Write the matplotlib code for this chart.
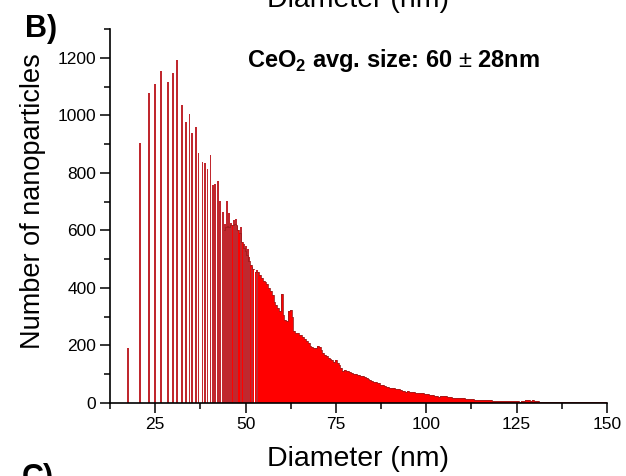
import matplotlib
matplotlib.use("Agg")
import matplotlib.pyplot as plt
import numpy as np

plt.rcParams['font.family'] = 'Liberation Sans'
plt.rcParams['mathtext.fontset'] = 'custom'
plt.rcParams['mathtext.rm'] = 'Liberation Sans'
plt.rcParams['mathtext.bf'] = 'Liberation Sans:bold'

# separate size classes on the small side (diameter nm, count)
sparse_d = [17.5, 20.7, 23.2, 24.9, 26.7, 28.5, 29.85, 31.15, 32.4, 33.5, 34.5, 35.2,
            36.3, 37.0, 38.1, 38.8, 39.5, 40.3, 41.0, 41.6, 42.3, 43.0, 43.8,
            44.3, 44.9, 45.4, 46.0, 46.7, 47.4, 47.8, 48.8, 49.5, 50.1, 50.6,
            51.1, 51.8, 53.2]
sparse_counts = [190, 902, 1078, 1108, 1153, 1117, 1148, 1192, 1035, 975, 1004, 938,
                 960, 870, 838, 835, 812, 862, 758, 760, 770, 702, 664,
                 621, 702, 659, 624, 636, 638, 615, 610, 551, 545, 534,
                 506, 471, 461]

# dense part, 0.5 nm bins starting at 44 nm
dense_start = 44.0
dense_step = 0.5
dense_counts = [
    600, 610, 615, 612, 618, 620, 622, 620, 600, 590,
    560, 540, 530, 515, 495, 480, 465, 0, 455, 455,
    445, 436, 425, 420, 415, 400, 388, 375, 350, 340,
    330, 320, 380, 305, 290, 285, 319, 324, 300, 250,
    242, 243, 238, 235, 231, 222, 216, 210, 198, 196,
    191, 191, 199, 195, 185, 174, 168, 162, 158, 152,
    148, 144, 150, 140, 133, 121, 110, 114, 112, 110,
    108, 104, 102, 101, 99, 98, 95, 93, 92, 86,
    82, 80, 77, 74, 72, 70, 68, 64, 61, 58,
    57, 55, 53, 51, 52, 50, 49, 50, 46, 43,
    41, 39, 40, 38, 39, 37, 36, 35, 34, 33,
    33, 32, 32, 30, 29, 28, 28, 26, 24, 22,
    23, 24, 24, 23, 22, 21, 20, 19, 19, 18,
    17, 17, 16, 16, 15, 14, 14, 13, 13, 12,
    12, 12, 11, 11, 10, 10, 9, 9, 9, 8,
    8, 8, 8, 7, 8, 7, 7, 7, 7, 6,
    6, 6, 6, 6, 5, 6, 8, 10, 9, 10,
    8, 9, 7, 6, 6, 5, 5, 5, 4, 4,
    4, 3, 3, 3, 3, 3, 2, 3, 3, 2,
    3, 2, 2, 3, 2, 2, 3, 2, 2, 2,
    2, 2, 3, 2, 2, 2, 2, 3, 2, 2,
    2, 2, 2,
]
dense_d = dense_start + dense_step * np.arange(len(dense_counts))

x_ticks = [25, 50, 75, 100, 125, 150]
y_ticks = [0, 200, 400, 600, 800, 1000, 1200]

fig = plt.figure(figsize=(6.26, 4.76), dpi=100)
ax = fig.add_axes([0.1757, 0.1534, 0.7939, 0.7857])

ax.bar(dense_d, dense_counts, width=dense_step, color='#ff0000', edgecolor='none')
outline = np.ma.masked_equal(dense_counts, 0)
ax.step(dense_d, outline, where='mid', color='#a01c1c', lw=0.6)
ax.bar(sparse_d, sparse_counts, width=0.5, color='#c0282e', edgecolor='none')

ax.set_xlim(12.5, 150)
ax.set_ylim(0, 1300)
ax.set_xticks(x_ticks)
ax.set_yticks(y_ticks)
ax.set_xticks(np.arange(12.5, 151, 12.5), minor=True)
ax.set_yticks(np.arange(0, 1301, 100), minor=True)
ax.tick_params(which='major', length=7, width=1.1, labelsize=12.5, pad=3)
ax.tick_params(which='minor', length=4, width=1.1)

for s in ['top', 'right']:
    ax.spines[s].set_visible(False)
for s in ['left', 'bottom']:
    ax.spines[s].set_linewidth(1.2)

ax.set_xlabel('Diameter (nm)', fontsize=20.5)
ax.set_ylabel('Number of nanoparticles', fontsize=19.5)
ax.xaxis.set_label_coords(0.5, -0.115)
ax.yaxis.set_label_coords(-0.128, 0.54)

ax.text(0.276, 0.898, r'CeO$_\mathbf{2}$ avg. size: 60 $\pm$ 28nm', transform=ax.transAxes,
        fontsize=17, fontweight='bold', va='baseline')

fig.text(25 / 626, 1 - 37 / 476, 'B)', fontsize=22, fontweight='bold', va='baseline')
fig.text(0.572, 1 - 7 / 476, 'Diameter (nm)', fontsize=20.5, ha='center', va='baseline')
fig.text(22 / 626, -0.022, 'C)', fontsize=22, fontweight='bold', va='baseline')

plt.savefig('out.png', dpi=100)
